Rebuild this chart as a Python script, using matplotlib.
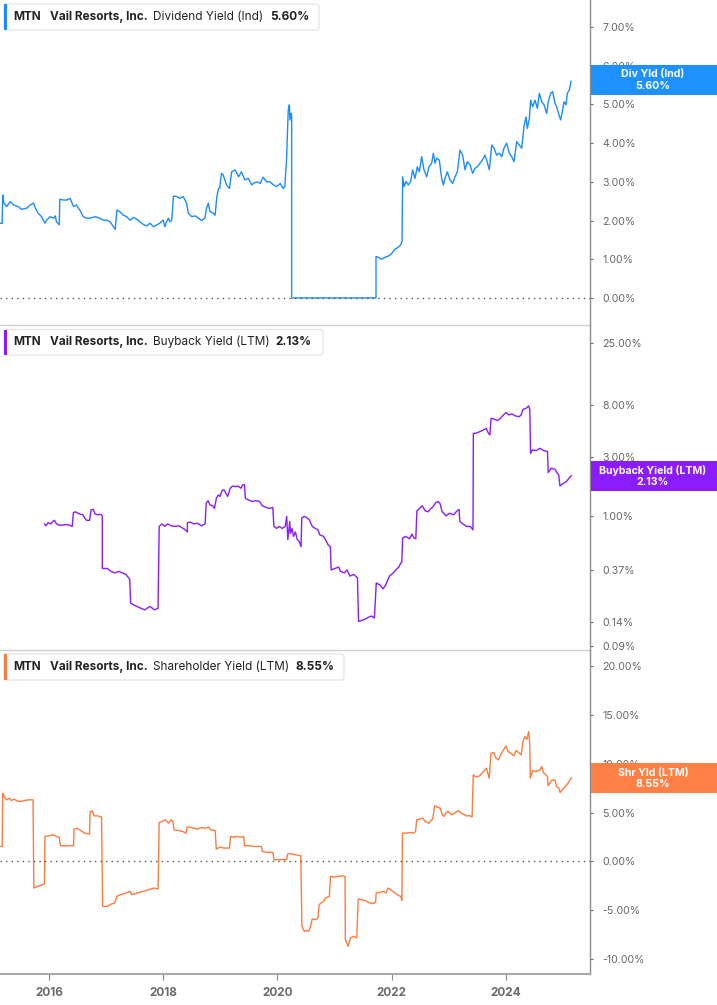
import matplotlib
matplotlib.use("Agg")
import matplotlib.pyplot as plt
from matplotlib.patches import FancyBboxPatch, Rectangle

plt.rcParams['font.family'] = ['Inter', 'DejaVu Sans']

# ---------------- data ----------------
div_years = [2015.14, 2015.18, 2015.19, 2015.21, 2015.26, 2015.32, 2015.38, 2015.46, 2015.52, 2015.61,
             2015.67, 2015.73, 2015.76, 2015.81, 2015.87, 2015.93, 2015.96, 2016.02, 2016.08, 2016.11,
             2016.13, 2016.18, 2016.19, 2016.25, 2016.31, 2016.37, 2016.43, 2016.48, 2016.54, 2016.60,
             2016.66, 2016.72, 2016.81, 2016.89, 2016.95, 2017.01, 2017.07, 2017.13, 2017.16, 2017.19,
             2017.24, 2017.30, 2017.36, 2017.42, 2017.48, 2017.54, 2017.59, 2017.65, 2017.71, 2017.77,
             2017.83, 2017.89, 2017.94, 2018.00, 2018.03, 2018.06, 2018.09, 2018.12, 2018.15, 2018.18,
             2018.24, 2018.29, 2018.35, 2018.41, 2018.44, 2018.50, 2018.56, 2018.62, 2018.67, 2018.73,
             2018.76, 2018.79, 2018.82, 2018.88, 2018.91, 2018.94, 2018.97, 2018.99, 2019.02, 2019.05,
             2019.11, 2019.16, 2019.20, 2019.26, 2019.32, 2019.37, 2019.43, 2019.49, 2019.55, 2019.58,
             2019.64, 2019.70, 2019.75, 2019.81, 2019.87, 2019.93, 2019.99, 2020.05, 2020.10, 2020.13,
             2020.16, 2020.19, 2020.21, 2020.22, 2020.24, 2020.25, 2020.25, 2021.727, 2021.727, 2021.768,
             2021.826, 2021.885, 2021.943, 2022.002, 2022.060, 2022.118, 2022.159, 2022.183, 2022.194, 2022.218,
             2022.253, 2022.294, 2022.334, 2022.369, 2022.410, 2022.451, 2022.486, 2022.527, 2022.568, 2022.615,
             2022.655, 2022.702, 2022.731, 2022.761, 2022.790, 2022.836, 2022.877, 2022.906, 2022.936, 2022.976,
             2023.023, 2023.070, 2023.111, 2023.152, 2023.198, 2023.245, 2023.286, 2023.327, 2023.374, 2023.420,
             2023.461, 2023.502, 2023.549, 2023.589, 2023.636, 2023.665, 2023.712, 2023.753, 2023.794, 2023.840,
             2023.887, 2023.928, 2023.969, 2024.016, 2024.062, 2024.103, 2024.144, 2024.191, 2024.237, 2024.278,
             2024.319, 2024.354, 2024.377, 2024.413, 2024.436, 2024.471, 2024.512, 2024.553, 2024.588, 2024.629,
             2024.670, 2024.716, 2024.745, 2024.786, 2024.821, 2024.862, 2024.891, 2024.932, 2024.961, 2024.996,
             2025.020, 2025.055, 2025.078, 2025.113, 2025.142]
div_yield = [1.93, 1.93, 2.66, 2.45, 2.36, 2.49, 2.40, 2.36, 2.29, 2.32,
             2.40, 2.45, 2.32, 2.19, 2.10, 1.93, 2.01, 2.10, 2.06, 2.12,
             1.97, 1.89, 2.55, 2.53, 2.53, 2.57, 2.36, 2.40, 2.27, 2.10,
             2.06, 2.06, 2.10, 2.06, 2.01, 2.01, 1.97, 1.84, 1.77, 2.27,
             2.23, 2.14, 2.10, 2.01, 2.08, 2.03, 1.97, 1.90, 1.86, 1.93,
             1.84, 1.89, 1.93, 2.01, 1.84, 1.97, 2.06, 1.97, 2.01, 2.63,
             2.62, 2.57, 2.62, 2.45, 2.19, 2.10, 2.12, 2.06, 2.00, 2.06,
             2.32, 2.45, 2.23, 2.19, 2.14, 2.62, 2.83, 2.83, 3.22, 3.18,
             2.92, 2.83, 3.26, 3.31, 3.13, 3.26, 3.05, 3.09, 2.92, 2.96,
             3.00, 2.96, 3.12, 3.00, 3.00, 2.92, 2.88, 2.96, 2.83, 2.88,
             3.56, 4.86, 4.99, 4.60, 4.77, 4.70, 0.00, 0.00, 1.07, 1.05,
             1.00, 1.05, 1.08, 1.15, 1.26, 1.31, 1.37, 1.46, 3.13, 2.88,
             3.01, 2.92, 3.01, 3.31, 3.09, 3.39, 3.26, 3.65, 3.31, 3.13,
             3.39, 3.48, 3.74, 3.48, 3.61, 3.56, 3.09, 2.92, 3.09, 3.26,
             3.05, 2.96, 3.13, 3.26, 3.82, 3.69, 3.31, 3.52, 3.44, 3.22,
             3.35, 3.39, 3.48, 3.56, 3.69, 3.56, 3.31, 3.95, 3.87, 3.69,
             3.74, 3.65, 3.87, 4.00, 3.74, 3.65, 3.52, 4.04, 3.95, 3.87,
             4.43, 4.68, 4.38, 4.64, 5.11, 4.94, 5.11, 4.90, 5.29, 5.07,
             4.99, 4.77, 5.07, 5.29, 5.33, 5.03, 4.94, 4.73, 4.60, 4.86,
             5.07, 4.99, 5.29, 5.37, 5.60]

bb_years = [2015.920, 2015.946, 2015.985, 2016.032, 2016.065, 2016.097, 2016.130, 2016.183, 2016.229, 2016.295,
            2016.361, 2016.407, 2016.427, 2016.460, 2016.526, 2016.592, 2016.625, 2016.658, 2016.710, 2016.737,
            2016.776, 2016.803, 2016.855, 2016.908, 2016.934, 2016.934, 2017.020, 2017.086, 2017.152, 2017.218,
            2017.284, 2017.350, 2017.415, 2017.429, 2017.481, 2017.547, 2017.613, 2017.679, 2017.745, 2017.778,
            2017.844, 2017.910, 2017.930, 2017.976, 2018.028, 2018.075, 2018.141, 2018.206, 2018.272, 2018.371,
            2018.424, 2018.424, 2018.470, 2018.536, 2018.602, 2018.668, 2018.734, 2018.753, 2018.786, 2018.819,
            2018.865, 2018.898, 2018.931, 2018.964, 2018.997, 2019.030, 2019.063, 2019.096, 2019.129, 2019.175,
            2019.215, 2019.261, 2019.307, 2019.360, 2019.393, 2019.425, 2019.439, 2019.491, 2019.557, 2019.623,
            2019.689, 2019.735, 2019.788, 2019.854, 2019.920, 2019.939, 2019.986, 2020.032, 2020.084, 2020.137,
            2020.163, 2020.183, 2020.216, 2020.229, 2020.256, 2020.282, 2020.315, 2020.348, 2020.381, 2020.414,
            2020.427, 2020.467, 2020.513, 2020.559, 2020.612, 2020.664, 2020.710, 2020.743, 2020.809, 2020.842,
            2020.888, 2020.928, 2020.941, 2021.007, 2021.073, 2021.106, 2021.172, 2021.218, 2021.271, 2021.336,
            2021.402, 2021.422, 2021.468, 2021.534, 2021.600, 2021.653, 2021.699, 2021.732, 2021.798, 2021.850,
            2021.897, 2021.963, 2022.029, 2022.075, 2022.127, 2022.160, 2022.180, 2022.193, 2022.246, 2022.312,
            2022.358, 2022.391, 2022.424, 2022.444, 2022.490, 2022.536, 2022.589, 2022.641, 2022.688, 2022.720,
            2022.773, 2022.819, 2022.852, 2022.885, 2022.918, 2022.951, 2023.017, 2023.083, 2023.149, 2023.182,
            2023.195, 2023.248, 2023.313, 2023.379, 2023.426, 2023.432, 2023.478, 2023.544, 2023.610, 2023.656,
            2023.696, 2023.722, 2023.742, 2023.808, 2023.854, 2023.907, 2023.959, 2024.006, 2024.052, 2024.105,
            2024.170, 2024.236, 2024.269, 2024.302, 2024.355, 2024.401, 2024.421, 2024.434, 2024.467, 2024.533,
            2024.598, 2024.664, 2024.730, 2024.743, 2024.796, 2024.862, 2024.895, 2024.928, 2024.948, 2024.994,
            2025.060, 2025.106, 2025.146]
bb_yield = [0.87, 0.84, 0.89, 0.87, 0.91, 0.93, 0.87, 0.85, 0.85, 0.86,
            0.85, 0.83, 1.07, 1.09, 1.05, 1.03, 0.97, 0.93, 0.93, 1.13,
            1.14, 1.05, 1.03, 1.04, 1.01, 0.38, 0.38, 0.36, 0.35, 0.36,
            0.35, 0.34, 0.31, 0.200, 0.193, 0.187, 0.181, 0.176, 0.185, 0.187,
            0.176, 0.181, 0.83, 0.87, 0.83, 0.87, 0.84, 0.83, 0.84, 0.79,
            0.75, 0.89, 0.90, 0.87, 0.88, 0.84, 0.87, 1.28, 1.34, 1.24,
            1.22, 1.16, 1.40, 1.49, 1.45, 1.62, 1.64, 1.54, 1.45, 1.69,
            1.76, 1.74, 1.76, 1.69, 1.80, 1.80, 1.40, 1.36, 1.32, 1.34,
            1.32, 1.22, 1.19, 1.16, 1.18, 0.83, 0.80, 0.83, 0.80, 0.83,
            1.00, 0.65, 0.91, 0.73, 0.80, 0.69, 0.75, 0.65, 0.63, 0.57,
            0.97, 1.00, 0.98, 0.94, 0.83, 0.80, 0.78, 0.71, 0.69, 0.65,
            0.59, 0.57, 0.37, 0.38, 0.39, 0.36, 0.35, 0.37, 0.33, 0.34,
            0.32, 0.142, 0.144, 0.148, 0.154, 0.157, 0.151, 0.29, 0.28, 0.26,
            0.28, 0.33, 0.35, 0.37, 0.39, 0.42, 0.43, 0.67, 0.69, 0.66,
            0.72, 0.67, 0.66, 1.11, 1.16, 1.22, 1.11, 1.09, 1.16, 1.19,
            1.29, 1.32, 1.26, 1.09, 1.06, 1.01, 1.06, 1.03, 1.11, 1.14,
            0.91, 0.87, 0.83, 0.83, 0.78, 4.69, 4.69, 4.84, 4.99, 5.15,
            4.69, 4.55, 6.20, 6.08, 5.94, 6.20, 6.60, 6.89, 6.60, 6.72,
            6.47, 6.39, 6.60, 7.33, 7.46, 7.80, 7.33, 3.23, 3.44, 3.40,
            3.55, 3.40, 3.34, 2.26, 2.45, 2.40, 2.26, 2.16, 1.76, 1.83,
            1.91, 2.03, 2.13]

shr_years = [2015.14, 2015.18, 2015.19, 2015.22, 2015.26, 2015.31, 2015.34, 2015.39, 2015.44, 2015.50,
             2015.57, 2015.64, 2015.70, 2015.72, 2015.735, 2015.80, 2015.87, 2015.92, 2015.93, 2016.00,
             2016.07, 2016.13, 2016.18, 2016.20, 2016.30, 2016.36, 2016.43, 2016.44, 2016.49, 2016.56,
             2016.625, 2016.71, 2016.72, 2016.76, 2016.79, 2016.855, 2016.92, 2016.94, 2017.02, 2017.09,
             2017.15, 2017.19, 2017.25, 2017.32, 2017.38, 2017.42, 2017.45, 2017.51, 2017.58, 2017.65,
             2017.71, 2017.78, 2017.84, 2017.91, 2017.93, 2017.98, 2018.04, 2018.09, 2018.14, 2018.17,
             2018.19, 2018.27, 2018.34, 2018.40, 2018.42, 2018.47, 2018.54, 2018.60, 2018.67, 2018.73,
             2018.80, 2018.83, 2018.91, 2018.93, 2019.00, 2019.06, 2019.13, 2019.16, 2019.18, 2019.23,
             2019.29, 2019.36, 2019.41, 2019.425, 2019.49, 2019.59, 2019.69, 2019.72, 2019.735, 2019.82,
             2019.92, 2019.94, 2020.02, 2020.12, 2020.16, 2020.18, 2020.25, 2020.315, 2020.41, 2020.43,
             2020.47, 2020.51, 2020.55, 2020.58, 2020.61, 2020.68, 2020.71, 2020.73, 2020.78, 2020.81,
             2020.84, 2020.91, 2020.93, 2021.01, 2021.07, 2021.14, 2021.185, 2021.19, 2021.24, 2021.28,
             2021.34, 2021.39, 2021.415, 2021.47, 2021.53, 2021.60, 2021.67, 2021.72, 2021.73, 2021.80,
             2021.86, 2021.90, 2021.94, 2021.995, 2022.06, 2022.13, 2022.16, 2022.18, 2022.19, 2022.26,
             2022.33, 2022.39, 2022.42, 2022.44, 2022.49, 2022.54, 2022.59, 2022.655, 2022.69, 2022.72,
             2022.755, 2022.80, 2022.85, 2022.89, 2022.92, 2022.95, 2022.98, 2023.02, 2023.05, 2023.12,
             2023.17, 2023.215, 2023.28, 2023.31, 2023.38, 2023.41, 2023.43, 2023.48, 2023.54, 2023.61,
             2023.66, 2023.70, 2023.71, 2023.74, 2023.79, 2023.83, 2023.87, 2023.91, 2023.96, 2024.005,
             2024.04, 2024.09, 2024.14, 2024.18, 2024.24, 2024.27, 2024.30, 2024.335, 2024.37, 2024.40,
             2024.42, 2024.43, 2024.47, 2024.53, 2024.60, 2024.63, 2024.66, 2024.70, 2024.73, 2024.74,
             2024.80, 2024.86, 2024.89, 2024.93, 2024.95, 2024.99, 2025.04, 2025.09, 2025.15]
shr_yield = [1.53, 1.53, 6.98, 6.57, 6.30, 6.47, 6.23, 6.37, 6.20, 6.13,
             6.23, 6.30, 6.30, 6.30, -2.73, -2.56, -2.43, -2.29, 2.55, 2.62,
             2.72, 2.55, 2.48, 1.60, 1.60, 1.60, 1.60, 3.30, 3.40, 3.13,
             2.89, 2.79, 5.07, 5.18, 4.66, 4.66, 4.53, -4.61, -4.61, -4.37,
             -4.27, -3.58, -3.41, -3.31, -3.17, -3.07, -3.41, -3.31, -3.17, -3.07,
             -2.97, -2.83, -2.73, -2.83, 3.98, 4.08, 4.26, 3.91, 4.26, 4.08,
             3.23, 3.16, 3.06, 2.89, 3.51, 3.51, 3.40, 3.30, 3.47, 3.40,
             3.51, 3.23, 3.16, 1.26, 1.46, 1.36, 1.36, 1.36, 2.55, 2.48,
             2.55, 2.48, 2.55, 1.60, 1.60, 1.53, 1.53, 1.53, 1.02, 0.92,
             0.92, 0.17, 0.17, 0.17, 0.17, 0.75, 0.78, 0.68, 0.57, -6.65,
             -7.16, -7.06, -7.16, -6.65, -5.90, -5.97, -5.80, -4.44, -4.20, -4.10,
             -3.75, -3.58, -1.54, -1.61, -1.54, -1.47, -1.54, -8.01, -8.70, -7.84,
             -7.67, -7.84, -3.86, -3.92, -3.99, -4.20, -4.33, -4.20, -3.24, -3.17,
             -3.07, -3.24, -2.73, -2.97, -3.24, -3.52, -3.58, -3.99, 2.89, 2.89,
             2.96, 2.89, 3.06, 4.26, 4.32, 4.43, 4.08, 3.91, 4.19, 4.32,
             5.69, 5.55, 5.45, 4.77, 4.60, 4.94, 5.11, 4.94, 4.77, 5.01,
             5.21, 4.94, 4.77, 4.66, 4.66, 4.53, 8.86, 8.62, 8.75, 9.20,
             9.54, 8.69, 8.52, 11.07, 11.14, 10.56, 10.39, 10.90, 11.41, 11.82,
             11.24, 11.07, 10.80, 11.34, 11.07, 10.90, 12.26, 12.78, 12.50, 13.29,
             12.09, 8.52, 9.30, 9.20, 9.37, 9.71, 9.09, 8.86, 8.69, 7.73,
             8.28, 8.35, 7.66, 7.49, 7.05, 7.32, 7.66, 8.00, 8.55]

ticker = "MTN"
company = "Vail Resorts, Inc."
metric_names = ["Dividend Yield (Ind)", "Buyback Yield (LTM)", "Shareholder Yield (LTM)"]
badge_names = ["Div Yld (Ind)", "Buyback Yield (LTM)", "Shr Yld (LTM)"]
last_values = [5.60, 2.13, 8.55]
div_ticks = [0, 1, 2, 3, 4, 5, 6, 7]
bb_ticks = [0.09, 0.14, 0.37, 1.00, 3.00, 8.00, 25.00]
shr_ticks = [-10, -5, 0, 5, 10, 15, 20]
year_ticks = [2016, 2018, 2020, 2022, 2024]

# ---------------- layout ----------------
W, H = 717, 1005
fig = plt.figure(figsize=(W / 100, H / 100), dpi=100)
fig.patch.set_facecolor("white")

def fx(x):
    return x / W

def fy(y):
    return 1 - y / H

colors = ["#1a8cff", "#8a1cff", "#ff7a3d"]
badge_colors = ["#1e90ff", "#8a1cff", "#ff7f45"]
X0, X1 = 2015.142, 2025.475

ax1 = fig.add_axes([0, fy(325), fx(590), 325 / H])
ax2 = fig.add_axes([0, fy(650), fx(590), 325 / H])
ax3 = fig.add_axes([0, fy(974), fx(590), 324 / H])
axes = [ax1, ax2, ax3]

ax1.plot(div_years, div_yield, color=colors[0], lw=1.0)
ax2.plot(bb_years, bb_yield, color=colors[1], lw=1.0)
ax3.plot(shr_years, shr_yield, color=colors[2], lw=1.0)

ax1.set_ylim(-0.70, 7.70)
ax2.set_yscale("log")
ax2.set_ylim(0.0835, 35.1)
ax3.set_ylim(-11.53, 21.64)

ax1.axhline(0, color="#555555", lw=1, ls=(0, (1, 3)))
ax3.axhline(0, color="#555555", lw=1, ls=(0, (1, 3)))

ax1.set_yticks(div_ticks)
ax1.set_yticklabels([f"{v:.2f}%" for v in div_ticks])
ax2.set_yticks(bb_ticks)
ax2.set_yticklabels([f"{v:.2f}%" for v in bb_ticks])
ax2.minorticks_off()
ax3.set_yticks(shr_ticks)
ax3.set_yticklabels([f"{v:.2f}%" for v in shr_ticks])

for i, ax in enumerate(axes):
    ax.set_xlim(X0, X1)
    ax.set_facecolor("none")
    ax.spines["top"].set_visible(False)
    ax.spines["left"].set_visible(False)
    ax.spines["right"].set_color("#8c8c8c")
    ax.spines["right"].set_linewidth(1.0)
    ax.yaxis.tick_right()
    ax.tick_params(axis="y", which="both", length=2.5, width=0.8, color="#666666",
                   labelsize=7.6, labelcolor="#666666", pad=6.5)
    if i < 2:
        ax.spines["bottom"].set_color("#d0d0d0")
        ax.spines["bottom"].set_linewidth(1.0)
        ax.set_xticks([])
    else:
        ax.spines["bottom"].set_color("#aaaaaa")
        ax.spines["bottom"].set_linewidth(1.5)
        ax.set_xticks(year_ticks)
        ax.set_xticklabels([str(y) for y in year_ticks])
        ax.tick_params(axis="x", length=4, width=0.8, color="#888888",
                       labelsize=8.5, labelcolor="#6b6b6b", pad=5)
        for lab in ax.get_xticklabels():
            lab.set_fontweight("bold")

# ---------------- legends ----------------
legend_boxes = [(4, 4, 319, 30), (4, 329.5, 323, 355), (4, 654, 344, 680)]
value_x = [270, 275, 295]
for i in range(3):
    x0, y0, x1, y1 = legend_boxes[i]
    box = FancyBboxPatch((fx(x0), fy(y1)), fx(x1 - x0), (y1 - y0) / H,
                         boxstyle="round,pad=0,rounding_size=0.003",
                         transform=fig.transFigure, facecolor="white",
                         edgecolor="#e2e2e2", lw=0.8, zorder=5)
    fig.add_artist(box)
    bar = Rectangle((fx(x0), fy(y1)), fx(3), (y1 - y0) / H, transform=fig.transFigure,
                    facecolor=colors[i], edgecolor="none", zorder=6)
    fig.add_artist(bar)
    yc = fy((y0 + y1) / 2)
    fig.text(fx(13), yc, ticker, fontsize=8.5, fontweight="bold", color="#222222",
             va="center", ha="left", zorder=7)
    fig.text(fx(50), yc, company, fontsize=8.5, fontweight="bold", color="#222222",
             va="center", ha="left", zorder=7)
    fig.text(fx(153), yc, metric_names[i], fontsize=8.5, color="#222222",
             va="center", ha="left", zorder=7)
    fig.text(fx(value_x[i]), yc, f"{last_values[i]:.2f}%", fontsize=8.5, fontweight="bold",
             color="#222222", va="center", ha="left", zorder=7)

# ---------------- value badges ----------------
badge_rows = [(65, 95), (461, 491), (763, 793)]
for i in range(3):
    y0, y1 = badge_rows[i]
    rect = Rectangle((fx(590.5), fy(y1)), fx(717 - 590.5), (y1 - y0) / H,
                     transform=fig.transFigure, facecolor=badge_colors[i],
                     edgecolor="none", zorder=10)
    fig.add_artist(rect)
    fig.text(fx(653), fy(y0 + 9.5), badge_names[i], fontsize=7.6, fontweight="bold",
             color="white", ha="center", va="center", zorder=11)
    fig.text(fx(653), fy(y0 + 21), f"{last_values[i]:.2f}%", fontsize=7.6, fontweight="bold",
             color="white", ha="center", va="center", zorder=11)

fig.savefig("out.png", dpi=100, facecolor="white")
